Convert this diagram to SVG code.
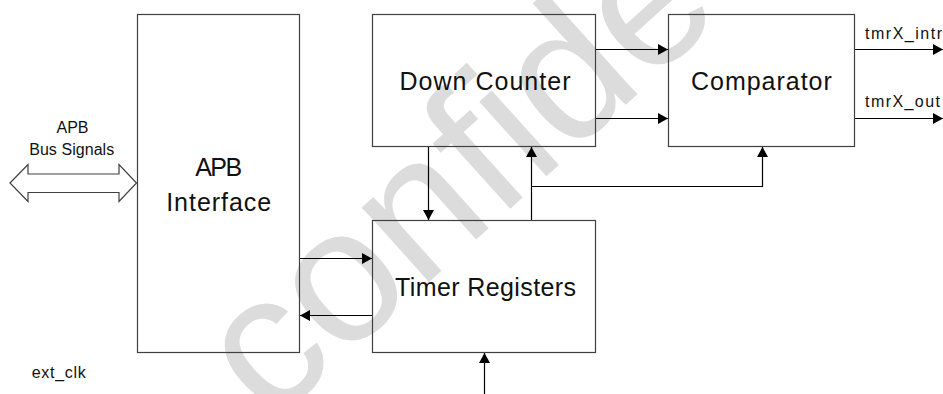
<svg xmlns="http://www.w3.org/2000/svg" width="943" height="394" viewBox="0 0 943 394">
<defs>
<marker id="ah" markerUnits="userSpaceOnUse" markerWidth="11" markerHeight="12" refX="10" refY="5.5" orient="auto">
<path d="M0,0 L10,5.5 L0,11 Z" fill="#000"/>
</marker>
<style>
.box{fill:none;stroke:#404040;stroke-width:1.2}
.big{font-family:"Liberation Sans",Arial,sans-serif;font-size:25px;fill:#111;text-anchor:middle}
.sm{font-family:"Liberation Sans",Arial,sans-serif;font-size:16px;fill:#111}
.ln{fill:none;stroke:#000;stroke-width:1.2}
.wm{font-family:"Liberation Sans",Arial,sans-serif;font-size:190px;fill:#dcdcdc}
</style>
</defs>
<rect width="943" height="394" fill="#fff"/>
<text class="wm" transform="translate(270,425) rotate(-42)">confide</text>

<g id="apb-bus">
<polygon points="10,183 28,164.5 28,174 119,174 119,164.5 136.5,183 119,201.5 119,192.5 28,192.5 28,201.5" fill="#fff" stroke="#404040" stroke-width="1.2"/>
<text class="sm" x="72.5" y="132.7" text-anchor="middle" textLength="32" lengthAdjust="spacing">APB</text>
<text class="sm" x="71.7" y="155" text-anchor="middle" textLength="85" lengthAdjust="spacing">Bus Signals</text>
</g>

<g id="apb-interface">
<rect class="box" x="137.5" y="14.5" width="162" height="338"/>
<text class="big" x="218.7" y="175.7" textLength="47" lengthAdjust="spacing">APB</text>
<text class="big" x="218.7" y="210.7" textLength="105" lengthAdjust="spacing">Interface</text>
</g>

<g id="down-counter">
<rect class="box" x="372.5" y="14.5" width="223" height="132"/>
<text class="big" x="485" y="90" textLength="171" lengthAdjust="spacing">Down Counter</text>
</g>

<g id="comparator">
<rect class="box" x="668.5" y="14.5" width="186" height="132"/>
<text class="big" x="761.4" y="90" textLength="140.7" lengthAdjust="spacing">Comparator</text>
</g>

<g id="timer-registers">
<rect class="box" x="372.5" y="220.5" width="223" height="132"/>
<text class="big" x="485.5" y="295.7" textLength="181" lengthAdjust="spacing">Timer Registers</text>
</g>

<g id="labels">
<text class="sm" x="865" y="38.5" textLength="77" lengthAdjust="spacing">tmrX_intr</text>
<text class="sm" x="865" y="107" textLength="75" lengthAdjust="spacing">tmrX_out</text>
<text class="sm" x="31.7" y="378" textLength="54" lengthAdjust="spacing">ext_clk</text>
</g>

<g id="connectors">
<path class="ln" d="M596,49.5 H668" marker-end="url(#ah)"/>
<path class="ln" d="M596,118.5 H668" marker-end="url(#ah)"/>
<path class="ln" d="M855,49.5 H943" marker-end="url(#ah)"/>
<path class="ln" d="M855,118.5 H943" marker-end="url(#ah)"/>
<path class="ln" d="M428.5,147 V220" marker-end="url(#ah)"/>
<path class="ln" d="M531.5,220 V147" marker-end="url(#ah)"/>
<path class="ln" d="M531.5,186.5 H762.5 V147" marker-end="url(#ah)"/>
<path class="ln" d="M300,258.5 H372" marker-end="url(#ah)"/>
<path class="ln" d="M372,315.5 H300" marker-end="url(#ah)"/>
<path class="ln" d="M484.5,394 V353" marker-end="url(#ah)"/>
</g>
</svg>
